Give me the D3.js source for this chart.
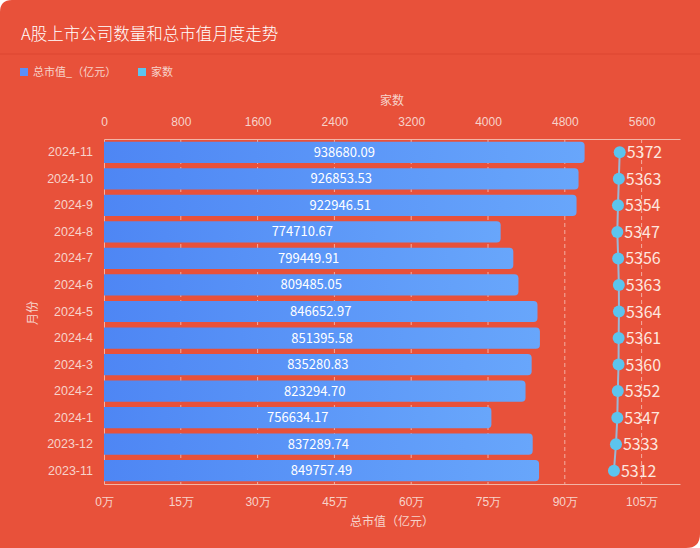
<!DOCTYPE html>
<html><head><meta charset="utf-8">
<script src="https://cdn.jsdelivr.net/npm/d3@7/dist/d3.min.js"></script>
<style>
html,body{margin:0;padding:0;background:#fff;}
svg{display:block;font-family:"Noto Sans CJK SC","Noto Sans",sans-serif;}
</style></head>
<body><svg id="c" width="700" height="548"></svg>
<script>
const months = ["2024-11","2024-10","2024-9","2024-8","2024-7","2024-6","2024-5","2024-4","2024-3","2024-2","2024-1","2023-12","2023-11"];
const marketCap = [938680.09,926853.53,922946.51,774710.67,799449.91,809485.05,846652.97,851395.58,835280.83,823294.70,756634.17,837289.74,849757.49];
const companies = [5372,5363,5354,5347,5356,5363,5364,5361,5360,5352,5347,5333,5312];
const capTicks = [0,150000,300000,450000,600000,750000,900000,1050000];
const countTicks = [0,800,1600,2400,3200,4000,4800,5600];
const title = "A股上市公司数量和总市值月度走势";
const legendNames = ["总市值_（亿元）","家数"];

const W=700,H=548;
const svg=d3.select("#c");
const bg="#e8513a", axisCol="#f2b4a6", txt="#f7d3ca";
svg.append("path").attr("d","M0,0 H"+W+" V"+(H-14)+" Q"+W+","+H+" "+(W-14)+","+H+" H0 Z").attr("fill",bg);
svg.append("path").attr("d","M0,12 Q0,0 12,0 L0,0 Z").attr("fill","#fff");
svg.append("line").attr("x1",0).attr("x2",W).attr("y1",54).attr("y2",54).attr("stroke","#dc4731").attr("stroke-width",1);

const defs=svg.append("defs");
const g=defs.append("linearGradient").attr("id","bar").attr("x1","0").attr("x2","1").attr("y1","0").attr("y2","0");
g.append("stop").attr("offset","0").attr("stop-color","#4e86f4");
g.append("stop").attr("offset","1").attr("stop-color","#68a6fb");

svg.append("text").attr("x",21).attr("y",40).attr("fill","#fff").attr("font-size",16.5).attr("font-weight",300).text(title);

// legend
const lg=svg.append("g").attr("transform","translate(20,73)");
[["#5b8ff9",0],["#5cc4ee",118]].forEach((d,i)=>{
  lg.append("rect").attr("x",d[1]).attr("y",-5).attr("width",8).attr("height",8).attr("fill",d[0]);
  lg.append("text").attr("x",d[1]+13).attr("y",3).attr("fill",txt).attr("font-size",11).text(legendNames[i]);
});

const m={l:104,r:680,t:139,b:484};
const x=d3.scaleLinear().domain([0,1125000]).range([m.l,m.r]);
const x2=d3.scaleLinear().domain([0,6000]).range([m.l,m.r]);
const y=d3.scaleBand().domain(months).range([m.t,m.b]).paddingInner(0.2).paddingOuter(0.1);

// grid
svg.append("g").selectAll("line").data(capTicks.slice(1)).join("line")
  .attr("x1",d=>x(d)).attr("x2",d=>x(d)).attr("y1",m.t).attr("y2",m.b)
  .attr("stroke","#f6c7bc").attr("stroke-dasharray","4,3").attr("stroke-width",1).attr("opacity",0.8);

// axes
const ax=svg.append("g").attr("transform",`translate(0,${m.b})`)
  .call(d3.axisBottom(x).tickValues(capTicks).tickFormat(d=>(d/10000)+"万").tickSize(0).tickPadding(13));
const at=svg.append("g").attr("transform",`translate(0,${m.t})`)
  .call(d3.axisTop(x2).tickValues(countTicks).tickFormat(d=>d).tickSize(0).tickPadding(13));
const ay=svg.append("g").attr("transform",`translate(${m.l},0)`)
  .call(d3.axisLeft(y).tickSize(0).tickPadding(11));
[ax,at,ay].forEach(a=>{
  a.select(".domain").attr("stroke",axisCol);
  a.selectAll("text").attr("fill",txt).attr("font-size",12);
});
ay.selectAll("text").attr("font-size",12.5);

svg.append("text").attr("x",392).attr("y",105).attr("text-anchor","middle").attr("fill",txt).attr("font-size",12).text("家数");
svg.append("text").attr("x",392).attr("y",526).attr("text-anchor","middle").attr("fill",txt).attr("font-size",12).text("总市值（亿元）");
svg.append("text").attr("transform","translate(37,313) rotate(-90)").attr("text-anchor","middle").attr("fill",txt).attr("font-size",12).text("月份");

// bars
const r=4;
svg.append("g").selectAll("path").data(months).join("path")
  .attr("d",(d,i)=>{const x0=x(0),x1=x(marketCap[i]),y0=y(d),h=y.bandwidth();
    return `M${x0},${y0} H${x1-r} Q${x1},${y0} ${x1},${y0+r} V${y0+h-r} Q${x1},${y0+h} ${x1-r},${y0+h} H${x0} Z`;})
  .attr("fill","url(#bar)");
svg.append("g").selectAll("text").data(months).join("text")
  .attr("x",(d,i)=>(x(0)+x(marketCap[i]))/2).attr("y",d=>y(d)+y.bandwidth()/2+4.5)
  .attr("text-anchor","middle").attr("fill","#fff").attr("font-size",13)
  .text((d,i)=>marketCap[i].toFixed(2));

// line + dots
const cy=d=>y(d)+y.bandwidth()/2;
svg.append("path").datum(months).attr("fill","none").attr("stroke","#9ab8d6").attr("stroke-width",2)
  .attr("d",d3.line().x((d,i)=>x2(companies[i])).y(d=>cy(d)));
svg.append("g").selectAll("circle").data(months).join("circle")
  .attr("cx",(d,i)=>x2(companies[i])).attr("cy",cy).attr("r",6).attr("fill","#5cc4ee");
svg.append("g").selectAll("text").data(months).join("text")
  .attr("x",(d,i)=>x2(companies[i])+7).attr("y",d=>cy(d)+6)
  .attr("fill","#fde6df").attr("font-size",16).text((d,i)=>companies[i]);
</script></body></html>
